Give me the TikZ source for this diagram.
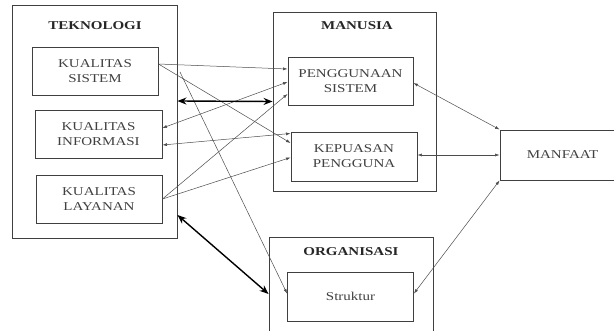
\documentclass[tikz,border=0pt]{standalone}
\usepackage{fontspec}
\setmainfont[FakeStretch=1.25]{Liberation Serif}
\usetikzlibrary{arrows.meta}
\begin{document}
\begin{tikzpicture}[
x=1pt,y=-1pt,
group/.style={draw=black!75,line width=0.9pt,inner sep=0},
item/.style={draw=black!75,line width=0.9pt,inner sep=0,align=center,text=black!75,font=\fontsize{12}{15}\selectfont},
heading/.style={font=\fontsize{12}{15}\selectfont\bfseries,text=black!85},
link/.style={-{Latex[length=4.5pt,width=3pt]},draw=black!70,line width=0.5pt},
both/.style={{Latex[length=4.5pt,width=3pt]}-{Latex[length=4.5pt,width=3pt]},draw=black!70,line width=0.5pt},
strong/.style={{Stealth[length=9pt,width=7pt]}-{Stealth[length=9pt,width=7pt]},line width=1.4pt},
]
\useasboundingbox(0,0)rectangle(614,331);

%groups
\node[group,minimum width=165,minimum height=233](tek)at(94.5,121.5){};
\node[heading](tektitle)at(95,26){TEKNOLOGI};
\node[group,minimum width=163,minimum height=179](man)at(354.5,101.5){};
\node[heading](mantitle)at(357,26){MANUSIA};
\node[group,minimum width=164,minimum height=98](org)at(351,286){};
\node[heading](orgtitle)at(351,252){ORGANISASI};

%items
\node[item,minimum width=126,minimum height=48](ks)at(95,71){KUALITAS\\SISTEM};
\node[item,minimum width=127,minimum height=48](ki)at(98.5,134){KUALITAS\\INFORMASI};
\node[item,minimum width=126,minimum height=48](kl)at(99,199){KUALITAS\\LAYANAN};
\node[item,minimum width=125,minimum height=48](ps)at(350.5,81){PENGGUNAAN\\SISTEM};
\node[item,minimum width=126,minimum height=49](kp)at(354,156.5){KEPUASAN\\PENGGUNA};
\node[item,minimum width=126,minimum height=49](st)at(350.5,296.5){Struktur};
\node[item,minimum width=125,minimum height=50](mf)at(562.5,155){MANFAAT};

%thin links
\coordinate(tekout)at(180,72);
\draw[link]([yshift=7pt]ks.east)--([yshift=12pt]ps.west);
\draw[link]([yshift=7pt]ks.east)--([yshift=13.5pt]kp.west);
\draw[link](tekout)--([yshift=3pt]st.west);
\draw[both]([yshift=6pt]ki.east)--([yshift=-1pt]ps.west);
\draw[both]([yshift=-11pt]ki.east)--([yshift=23pt]kp.west);
\draw[link](kl.east)--([yshift=-13pt]ps.west);
\draw[link](kl.east)--([yshift=-1pt]kp.west);
\draw[both]([yshift=-2pt]ps.east)--(mf.north west);
\draw[both]([yshift=1.5pt]kp.east)--(mf.west);
\draw[both]([yshift=3pt]st.east)--(mf.south west);

%thick links
\draw[strong]([yshift=20.5pt]tek.east)--(man.west);
\draw[strong]([yshift=-93.5pt]tek.east)--([yshift=-8pt]org.west);

\end{tikzpicture}
\end{document}
